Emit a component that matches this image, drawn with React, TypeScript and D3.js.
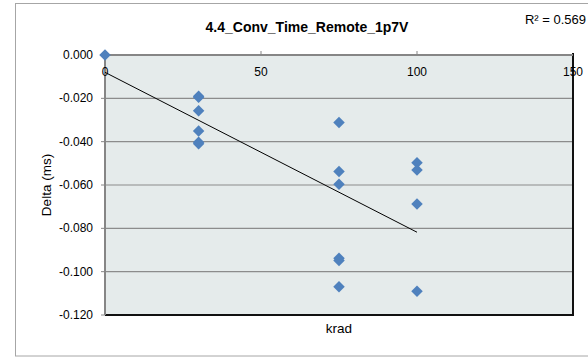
import { useRef, useEffect } from 'react'
import * as d3 from 'd3'

const doses = [0, 30, 30, 30, 30, 30, 30, 75, 75, 75, 75, 75, 75, 100, 100, 100, 100]
const deltas = [0, -0.019, -0.0195, -0.0257, -0.0351, -0.0403, -0.041, -0.0312, -0.0538, -0.0597, -0.0938, -0.0948, -0.107, -0.0497, -0.0531, -0.0688, -0.109]
const trendX = [0, 100]
const trendY = [-0.008, -0.0818]
const xTicks = [0, 50, 100, 150]
const yTicks = [0, -0.02, -0.04, -0.06, -0.08, -0.1, -0.12]

const title = '4.4_Conv_Time_Remote_1p7V'
const rSquared = 'R² = 0.569'

export default function App() {
  const svgRef = useRef<SVGSVGElement>(null)

  useEffect(() => {
    if (!svgRef.current) return
    const svg = d3.select(svgRef.current)
    svg.selectAll('*').remove()

    const font = '"Liberation Sans", Arial, sans-serif'
    const left = 105, right = 573, top = 55, bottom = 315

    const x = d3.scaleLinear().domain([0, 150]).range([left, right])
    const y = d3.scaleLinear().domain([-0.12, 0]).range([bottom, top])

    // chart frame
    svg.append('rect')
      .attr('x', 15.5).attr('y', 3.5).attr('width', 600).attr('height', 352.5)
      .attr('fill', '#fff').attr('stroke', '#a6a6a6').attr('stroke-width', 1)

    // plot area
    svg.append('rect')
      .attr('x', left).attr('y', top).attr('width', right - left).attr('height', bottom - top)
      .attr('fill', '#e5ebeb')

    // gridlines
    svg.selectAll('.grid')
      .data(yTicks.filter((t) => t !== 0 && t !== -0.12))
      .join('line')
      .attr('x1', left).attr('x2', right)
      .attr('y1', (d) => y(d)).attr('y2', (d) => y(d))
      .attr('stroke', '#8c8c8c').attr('stroke-width', 1.2)

    // black border right / bottom
    svg.append('path')
      .attr('d', `M${right},${top - 2}V${bottom}H${left}`)
      .attr('fill', 'none').attr('stroke', '#111').attr('stroke-width', 2)

    // y axis (left, gray)
    svg.append('line')
      .attr('x1', left).attr('x2', left).attr('y1', top).attr('y2', bottom)
      .attr('stroke', '#868686').attr('stroke-width', 2)
    // x axis at y=0 (top)
    svg.append('line')
      .attr('x1', left).attr('x2', right).attr('y1', y(0)).attr('y2', y(0))
      .attr('stroke', '#868686').attr('stroke-width', 2)
    svg.selectAll('.xtick')
      .data(xTicks.slice(1, -1))
      .join('line')
      .attr('x1', (d) => x(d)).attr('x2', (d) => x(d))
      .attr('y1', y(0) - 4).attr('y2', y(0))
      .attr('stroke', '#868686').attr('stroke-width', 1)
    svg.selectAll('.ytick')
      .data(yTicks)
      .join('line')
      .attr('x1', left - 4).attr('x2', left)
      .attr('y1', (d) => y(d)).attr('y2', (d) => y(d))
      .attr('stroke', '#868686').attr('stroke-width', 1)

    // tick labels
    svg.selectAll('.ylab')
      .data(yTicks)
      .join('text')
      .attr('x', 93).attr('y', (d) => y(d) + 4)
      .attr('text-anchor', 'end')
      .attr('font-family', font).attr('font-size', 12).attr('fill', '#000')
      .text((d) => d3.format('.3f')(d).replace('−', '-'))
    svg.selectAll('.xlab')
      .data(xTicks)
      .join('text')
      .attr('x', (d) => x(d)).attr('y', 76)
      .attr('text-anchor', 'middle')
      .attr('font-family', font).attr('font-size', 12).attr('fill', '#000')
      .text((d) => String(d))

    // trendline
    svg.append('line')
      .attr('x1', x(trendX[0])).attr('y1', y(trendY[0]))
      .attr('x2', x(trendX[1])).attr('y2', y(trendY[1]))
      .attr('stroke', '#000').attr('stroke-width', 1)

    // points
    const diamond = d3.symbol().type(d3.symbolSquare).size(66)
    svg.selectAll('.pt')
      .data(doses.map((d, i) => [d, deltas[i]] as [number, number]))
      .join('path')
      .attr('d', diamond)
      .attr('transform', (d) => `translate(${x(d[0])},${y(d[1])}) rotate(45)`)
      .attr('fill', '#4f81bd')

    // titles
    svg.append('text')
      .attr('x', 307).attr('y', 32)
      .attr('text-anchor', 'middle')
      .attr('font-family', font).attr('font-size', 14).attr('font-weight', 'bold')
      .text(title)
    svg.append('text')
      .attr('x', 586).attr('y', 24)
      .attr('text-anchor', 'end')
      .attr('font-family', font).attr('font-size', 13)
      .text(rSquared)
    svg.append('text')
      .attr('transform', `translate(51,${(top + bottom) / 2}) rotate(-90)`)
      .attr('text-anchor', 'middle')
      .attr('font-family', font).attr('font-size', 13.5)
      .text('Delta (ms)')
    svg.append('text')
      .attr('x', (left + right) / 2).attr('y', 333)
      .attr('text-anchor', 'middle')
      .attr('font-family', font).attr('font-size', 13.5)
      .text('krad')
  }, [])

  return (
    <svg
      ref={svgRef}
      width={588}
      height={357}
      style={{ position: 'absolute', left: 0, top: 0, display: 'block' }}
    />
  )
}
